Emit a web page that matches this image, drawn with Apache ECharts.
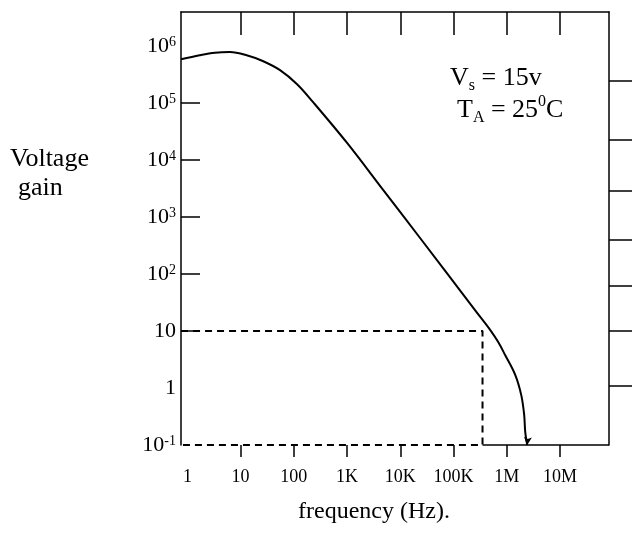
<!DOCTYPE html>
<html>
<head>
<meta charset="utf-8">
<script src="https://cdn.jsdelivr.net/npm/echarts@6/dist/echarts.min.js"></script>
<style>html,body{margin:0;padding:0;background:#fff}#c{width:632px;height:538px}</style>
</head>
<body>
<div id="c"></div>
<script>
// ---- data ----
const freqHz = [0.76, 1.7, 3.3, 6.3, 13, 26, 55, 115, 230, 1000, 4750, 23500, 255000, 490000, 690000, 930000, 1440000, 1870000, 2120000, 2220000, 2420000];
const gain   = [590000, 695000, 770000, 790000, 695000, 550000, 380000, 215000, 104000, 20000, 3000, 430, 23, 10.4, 6.4, 3.8, 1.7, 0.75, 0.34, 0.17, 0.1];
const boxFreq = [0.76, 350000, 350000, 0.76];
const boxGain = [10, 10, 0.1, 0.1];
const xTickValues = [10, 100, 1000, 10000, 100000, 1000000, 10000000];
const xLabelValues = [1, 10, 100, 1000, 10000, 100000, 1000000, 10000000];
const xLabels = ['1', '10', '100', '1K', '10K', '100K', '1M', '10M'];
const yLeftTickValues = [10, 100, 1000, 10000, 100000];
const yLabelValues = [0.1, 1, 10, 100, 1000, 10000, 100000, 1000000];
const yLabels = ['10{sup|-1}', '1', '10', '10{sup|2}', '10{sup|3}', '10{sup|4}', '10{sup|5}', '10{sup|6}'];
const yRightTickValues = [1.1, 10, 62, 400, 2900, 23000, 245000];
const xMin = 0.7586, xMax = 8.318e7;
const yMin = 0.1, yMax = 3.98e6;

const serif = '"Liberation Serif", "Times New Roman", serif';
const chart = echarts.init(document.getElementById('c'), null, {renderer: 'canvas'});

function findLabel(vals, labels, v) {
  for (let i = 0; i < vals.length; i++) {
    if (Math.abs(Math.log10(v) - Math.log10(vals[i])) < 1e-6) return labels[i];
  }
  return '';
}

const curveData = freqHz.map((f, i) => {
  if (i === freqHz.length - 1) {
    return {value: [f, gain[i]], symbol: 'arrow', symbolSize: [6, 8], symbolRotate: 175, itemStyle: {color: '#000'}};
  }
  return [f, gain[i]];
});

const option = {
  animation: false,
  backgroundColor: '#fff',
  grid: {left: 181, right: 23, top: 12, bottom: 93, containLabel: false, outerBoundsMode: 'none'},
  xAxis: [
    {
      type: 'log', logBase: 10, min: xMin, max: xMax, position: 'bottom',
      axisLine: {show: false},
      axisTick: {show: true, inside: false, length: 12, lineStyle: {color: '#000', width: 1.5}, customValues: xTickValues},
      axisLabel: {customValues: xLabelValues, formatter: v => findLabel(xLabelValues, xLabels, v),
        fontFamily: serif, fontSize: 18, color: '#000', margin: 23},
      splitLine: {show: false}, minorTick: {show: false}
    },
    {
      type: 'log', logBase: 10, min: xMin, max: xMax, position: 'top',
      axisLine: {show: true, lineStyle: {color: '#000', width: 1.5}},
      axisTick: {show: true, inside: true, length: 23, lineStyle: {color: '#000', width: 1.5}, customValues: xTickValues},
      axisLabel: {show: false},
      splitLine: {show: false}, minorTick: {show: false}
    }
  ],
  yAxis: [
    {
      type: 'log', logBase: 10, min: yMin, max: yMax, position: 'left',
      axisLine: {show: true, lineStyle: {color: '#000', width: 1.5}},
      axisTick: {show: true, inside: true, length: 19, lineStyle: {color: '#000', width: 1.5}, customValues: yLeftTickValues},
      axisLabel: {customValues: yLabelValues, formatter: v => findLabel(yLabelValues, yLabels, v),
        fontFamily: serif, fontSize: 22, color: '#000', margin: 5,
        rich: {sup: {fontFamily: serif, fontSize: 14, color: '#000', verticalAlign: 'top', lineHeight: 14}}},
      splitLine: {show: false}, minorTick: {show: false}
    },
    {
      type: 'log', logBase: 10, min: yMin, max: yMax, position: 'right',
      axisLine: {show: true, lineStyle: {color: '#000', width: 1.5}},
      axisTick: {show: true, inside: false, length: 23, lineStyle: {color: '#000', width: 1.5}, customValues: yRightTickValues},
      axisLabel: {show: false},
      splitLine: {show: false}, minorTick: {show: false}
    }
  ],
  series: [
    {
      name: 'dashed', type: 'line', xAxisIndex: 0, yAxisIndex: 0, clip: false,
      data: boxFreq.map((f, i) => [f, boxGain[i]]),
      symbol: 'none', lineStyle: {color: '#000', width: 2, type: [7, 5]}, silent: true
    },
    {
      name: 'base', type: 'line', xAxisIndex: 0, yAxisIndex: 0, clip: false,
      data: [[boxFreq[1], yMin], [xMax, yMin]],
      symbol: 'none', lineStyle: {color: '#000', width: 1.5}, silent: true
    },
    {
      name: 'gain', type: 'line', xAxisIndex: 0, yAxisIndex: 0, clip: false,
      data: curveData, smooth: 0.35, symbol: 'none', showSymbol: true,
      lineStyle: {color: '#000', width: 2}, itemStyle: {color: '#000'}, silent: true
    }
  ],
  graphic: [
    {type: 'text', left: 10, top: 146, style: {text: 'Voltage', font: '26px ' + serif, fill: '#000'}},
    {type: 'text', left: 18, top: 175, style: {text: 'gain', font: '26px ' + serif, fill: '#000'}},
    {type: 'text', left: 450, top: 62, style: {
      text: 'V{sub|s} = 15v', font: '26px ' + serif, fill: '#000', lineHeight: 32,
      rich: {sub: {font: '16px ' + serif, fill: '#000', verticalAlign: 'bottom', lineHeight: 16}}}},
    {type: 'text', left: 457, top: 94, style: {
      text: 'T{sub|A} = 25{sup|0}C', font: '26px ' + serif, fill: '#000', lineHeight: 32,
      rich: {sub: {font: '16px ' + serif, fill: '#000', verticalAlign: 'bottom', lineHeight: 16},
             sup: {font: '16px ' + serif, fill: '#000', verticalAlign: 'top', lineHeight: 16}}}},
    {type: 'text', left: 298, top: 500, style: {text: 'frequency (Hz).', font: '24px ' + serif, fill: '#000'}}
  ]
};
chart.setOption(option);
</script>
</body>
</html>
